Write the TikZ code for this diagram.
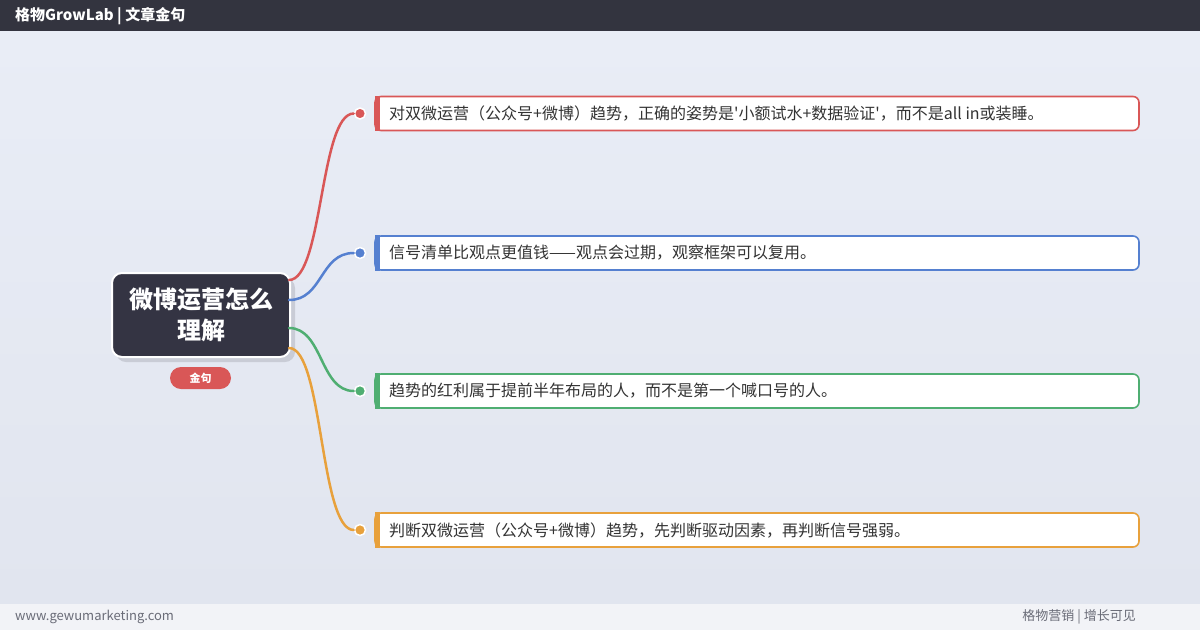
\documentclass[tikz,border=0pt]{standalone}
\usepackage{fontspec}
\setmainfont{Noto Sans CJK SC}
\usetikzlibrary{calc}
\definecolor{hdr}{HTML}{33343F}
\definecolor{bgtop}{HTML}{E9EDF6}
\definecolor{bgbot}{HTML}{E1E5EF}
\definecolor{ftr}{HTML}{F2F3F7}
\definecolor{ftxt}{HTML}{6A6C78}
\definecolor{cfill}{HTML}{343443}
\definecolor{shd}{HTML}{C9CCD6}
\definecolor{cred}{HTML}{D95757}
\definecolor{cblue}{HTML}{5580D0}
\definecolor{cgreen}{HTML}{4FAE72}
\definecolor{corange}{HTML}{E8A13C}
\definecolor{ctxt}{HTML}{333333}
\tikzset{
  dotnode/.style={circle, draw=white, line width=1.5pt, inner sep=0pt, minimum size=11pt},
  cardtext/.style={anchor=west, text=ctxt, font=\fontsize{16}{18}\selectfont, inner sep=0pt},
  link/.style={line width=2.5pt, line cap=round},
}
\begin{document}
\begin{tikzpicture}[x=1pt,y=-1pt]
\useasboundingbox (0,0) rectangle (1200,630);
\shade[top color=bgtop,bottom color=bgbot] (0,31) rectangle (1200,604);
\fill[hdr] (0,0) rectangle (1200,31);
\fill[ftr] (0,604) rectangle (1200,630);
\node[anchor=west, text=white, font=\bfseries\fontsize{15}{17}\selectfont, inner sep=0pt] (title) at (15,16) {格物GrowLab | 文章金句};
\node[anchor=west, text=ftxt, font=\fontsize{13}{15}\selectfont, inner sep=0pt] (url) at (15,617) {www.gewumarketing.com};
\node[anchor=east, text=ftxt, font=\fontsize{13}{15}\selectfont, inner sep=0pt] (slogan) at (1136,617) {格物营销 | 增长可见};

% central node
\fill[shd, rounded corners=10pt] (116,278) rectangle (295,362);
\node[fill=cfill, draw=white, line width=2pt, rounded corners=10pt, minimum width=178pt, minimum height=84pt, text=white, align=center, font=\bfseries\fontsize{24}{31}\selectfont] (c) at (201,315) {微博运营怎么\\理解};
\node[fill=cred, rounded corners=11pt, minimum width=61pt, minimum height=22pt, inner sep=0pt, text=white, font=\bfseries\fontsize{11}{13}\selectfont] (badge) at (200.5,378) {金句};

\foreach \n/\y/\col/\off/\txt in {
  1/113.5/cred/-35/{对双微运营（公众号+微博）趋势，正确的姿势是\textquotesingle 小额试水+数据验证\textquotesingle ，而不是all in或装睡。},
  2/253/cblue/-15/{信号清单比观点更值钱——观点会过期，观察框架可以复用。},
  3/391/cgreen/13/{趋势的红利属于提前半年布局的人，而不是第一个喊口号的人。},
  4/530/corange/33/{判断双微运营（公众号+微博）趋势，先判断驱动因素，再判断信号强弱。}}{
  \draw[\col, line width=1.6pt, fill=white, rounded corners=6pt] (375,\y-17) rectangle (1139,\y+17);
  \fill[\col] (374.5,\y-17.8) rectangle (380,\y+17.8);
  \node[cardtext] (t\n) at (389,\y) {\txt};
  \node[dotnode, fill=\col] (d\n) at (360,\y) {};
  \draw[\col, link] ($(c.east)+(-2,\off)$) .. controls +(34,0) and +(-34,0) .. (d\n.west);
}
\end{tikzpicture}
\end{document}
